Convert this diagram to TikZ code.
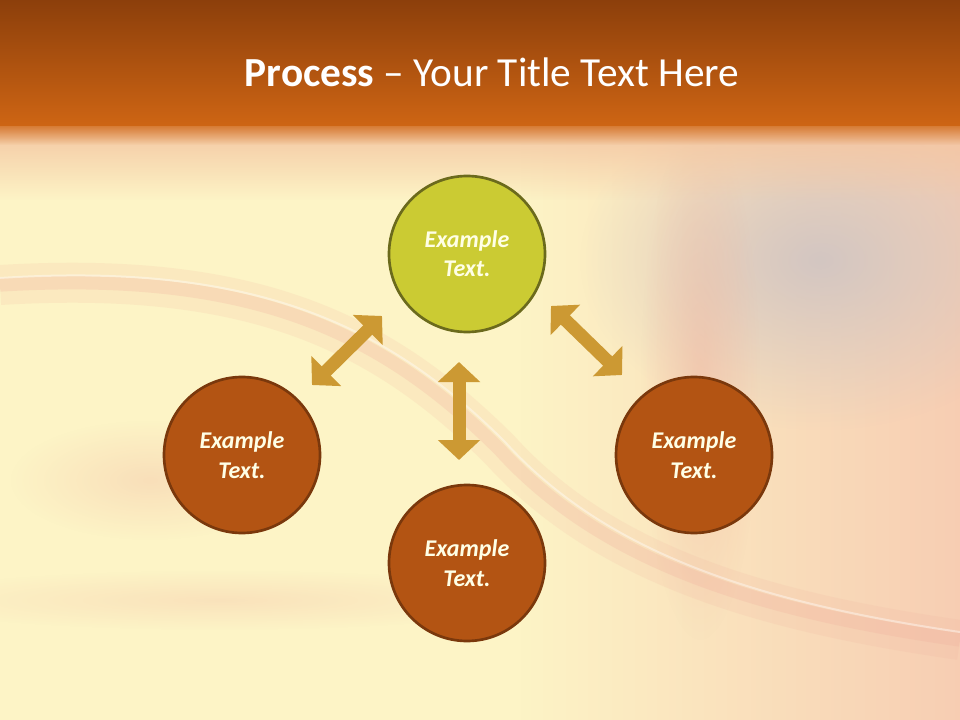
\documentclass[tikz,border=0pt]{standalone}
\usepackage{fontspec}
\setmainfont{Carlito}
\usetikzlibrary{arrows.meta,fadings}
\definecolor{hdtop}{HTML}{8C3F0B}
\definecolor{hdbot}{HTML}{CE6514}
\definecolor{bgpeach}{HTML}{F4C6A2}
\definecolor{bgcream}{HTML}{FDF4C6}
\definecolor{bgpink}{HTML}{F6C4AE}
\definecolor{bggrey}{HTML}{D3C6C2}
\definecolor{bgstreak}{HTML}{F0AE9C}
\definecolor{hubfill}{HTML}{CBCB33}
\definecolor{hubline}{HTML}{6B6A1C}
\definecolor{bubfill}{HTML}{B35413}
\definecolor{bubline}{HTML}{7A380C}
\definecolor{linkgold}{HTML}{CC9933}
\definecolor{textcream}{HTML}{FFFFE6}
\tikzfading[name=softedge, inner color=transparent!0, outer color=transparent!100]
\tikzfading[name=fadeleft, left color=transparent!100, right color=transparent!0]
\tikzfading[name=fadedown, top color=transparent!0, bottom color=transparent!100]

\begin{document}
\begin{tikzpicture}[x=0.75pt,y=-0.75pt,
            hub/.style={circle,draw=hubline,fill=hubfill,line width=2pt,
                minimum size=117pt,inner sep=0pt,align=center,text=textcream,
                font=\fontsize{18}{22}\selectfont\bfseries\itshape},
            bubble/.style={hub,draw=bubline,fill=bubfill},
            link/.style={draw=linkgold,line width=9.75pt,
                {Triangle[length=15pt,width=31pt]}-{Triangle[length=15pt,width=31pt]}}
            ]
            \useasboundingbox (0,0) rectangle (960,720);
            \clip (0,0) rectangle (960,720);
            % background
            \fill[bgcream] (0,0) rectangle (960,720);
            \fill[bgpink, fill opacity=.8, path fading=fadeleft] (520,120) rectangle (960,720);
            \fill[bggrey, path fading=softedge] (820,260) ellipse [x radius=240, y radius=170];
            \fill[bgstreak, fill opacity=.45, path fading=softedge] (700,380) ellipse [x radius=60, y radius=260];
            \fill[bgstreak, fill opacity=.3, path fading=softedge] (150,480) ellipse [x radius=140, y radius=60];
            \fill[bgstreak, fill opacity=.25, path fading=softedge] (220,600) ellipse [x radius=320, y radius=30];
            \draw[bgstreak, line width=30pt, opacity=.15]
                (0,285) .. controls (250,270) and (380,330) .. (500,450)
                .. controls (600,560) and (750,610) .. (960,640);
            \draw[bgstreak, line width=10pt, opacity=.25]
                (0,285) .. controls (250,270) and (380,330) .. (500,450)
                .. controls (600,560) and (750,610) .. (960,640);
            \draw[white, line width=1.5pt, opacity=.4]
                (0,278) .. controls (250,262) and (385,322) .. (505,442)
                .. controls (605,552) and (755,602) .. (960,632);
            % header
            \fill[bgpeach, path fading=fadedown] (0,126) rectangle (960,200);
            \fill[hdbot, path fading=fadedown] (0,120) rectangle (960,145);
            \shade[top color=hdtop, bottom color=hdbot] (0,0) rectangle (960,126);
            \node[anchor=base, text=white, font=\fontsize{31}{37}\selectfont]
                (title) at (492,87) {\textbf{Process} – Your Title Text Here};
            % circles
            \node[hub] (A) at (467,254) {Example\\Text.};
            \node[bubble] (B) at (242,455) {Example\\Text.};
            \node[bubble] (C) at (467,563) {Example\\Text.};
            \node[bubble] (D) at (694,455) {Example\\Text.};
            % arrows
            \coordinate (ab1) at (312,385);
            \coordinate (ab2) at (382,316);
            \coordinate (ac1) at (459,362);
            \coordinate (ac2) at (459,460);
            \coordinate (ad1) at (551,306);
            \coordinate (ad2) at (622,375);
            \draw[link] (ab1) -- (ab2);
            \draw[link] (ac1) -- (ac2);
            \draw[link] (ad1) -- (ad2);
        \end{tikzpicture}
\end{document}
